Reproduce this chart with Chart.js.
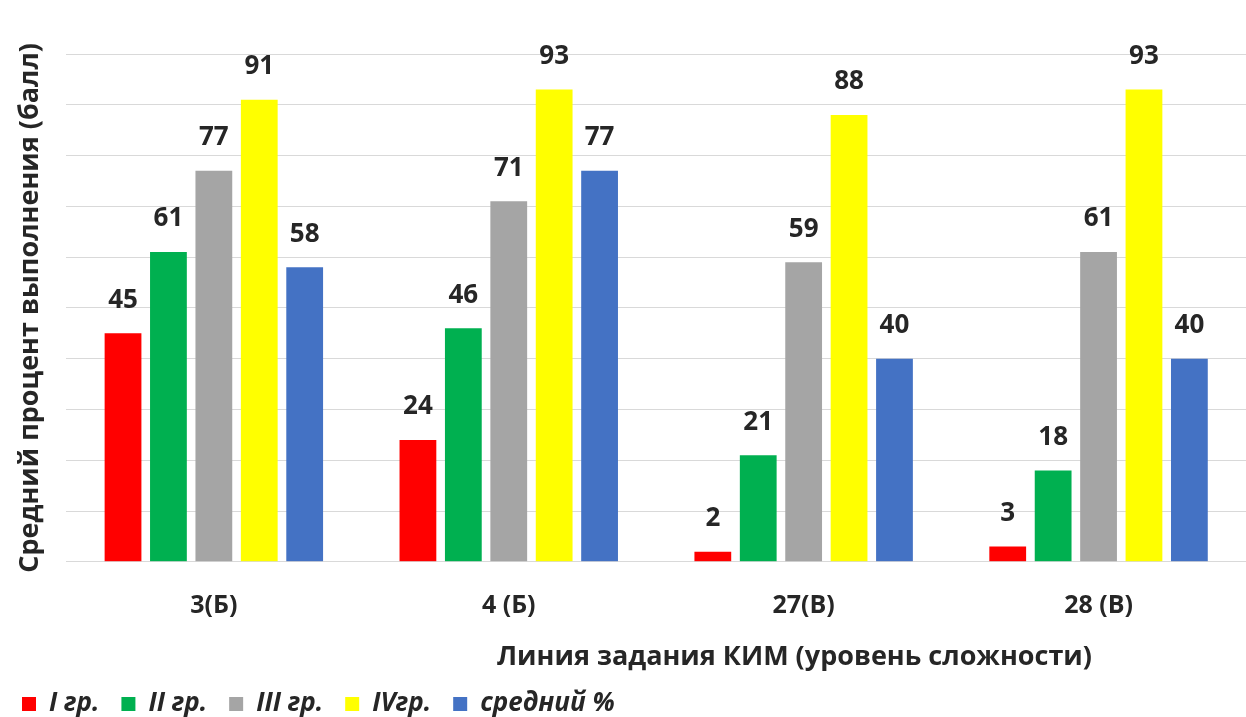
<!DOCTYPE html>
<html>
<head>
<meta charset="utf-8">
<script src="https://cdn.jsdelivr.net/npm/chart.js@4"></script>
<style>
  html, body { margin: 0; padding: 0; background: #fff; }
  #wrap { position: relative; width: 1246px; height: 717px; }
  #xtitle {
    position: absolute; left: 497px; top: 636px;
    font: bold 27px "Open Sans", sans-serif; color: #262626; white-space: nowrap;
  }
</style>
</head>
<body>
<div id="wrap">
  <canvas id="c"></canvas>
  <div id="xtitle">Линия задания КИМ (уровень сложности)</div>
</div>
<script>
// categories and series
const categories = ['3(Б)', '4 (Б)', '27(В)', '28 (В)'];
const group1 = [45, 24, 2, 3];
const group2 = [61, 46, 21, 18];
const group3 = [77, 71, 59, 61];
const group4 = [91, 93, 88, 93];
const average = [58, 77, 40, 40];
const seriesNames = ['I гр.', 'II гр.', 'III гр.', 'IVгр.', 'средний %'];

const COLORS = ['#ff0000', '#00b050', '#a5a5a5', '#ffff00', '#4472c4'];
const FONT = '"Open Sans", sans-serif';

const valueLabels = {
  id: 'valueLabels',
  afterDatasetsDraw(chart) {
    const ctx = chart.ctx;
    ctx.save();
    ctx.font = 'bold 26px ' + FONT;
    ctx.fillStyle = '#262626';
    ctx.textAlign = 'center';
    ctx.textBaseline = 'middle';
    chart.data.datasets.forEach((ds, i) => {
      chart.getDatasetMeta(i).data.forEach((bar, j) => {
        ctx.fillText(ds.data[j], bar.x, bar.y - 33);
      });
    });
    ctx.restore();
  }
};

const allSeries = [group1, group2, group3, group4, average];

new Chart(document.getElementById('c'), {
  type: 'bar',
  data: {
    labels: categories,
    datasets: allSeries.map((d, i) => ({
      label: seriesNames[i],
      data: d,
      backgroundColor: COLORS[i],
      borderWidth: 0,
      categoryPercentage: 0.77,
      barPercentage: 0.81,
    })),
  },
  options: {
    responsive: true,
    maintainAspectRatio: false,
    animation: false,
    layout: { padding: { top: 54, right: 0, left: 0, bottom: -10 } },
    plugins: {
      legend: {
        position: 'bottom',
        align: 'start',
        labels: {
          boxWidth: 14,
          boxHeight: 14,
          padding: 22,
          color: '#262626',
          font: { family: FONT, size: 26, style: 'italic', weight: 'bold' },
        },
      },
      tooltip: { enabled: false },
    },
    scales: {
      x: {
        grid: { display: false },
        border: { color: '#d9d9d9', width: 1 },
        ticks: {
          padding: 21,
          color: '#262626',
          font: { family: FONT, size: 25, weight: 'bold' },
        },
        // empty title only reserves room for the html axis title
        title: { display: true, text: ' ', font: { size: 1 }, padding: { top: 22, bottom: 4 } },
      },
      y: {
        min: 0,
        max: 100,
        ticks: { display: false, stepSize: 10 },
        grid: { color: '#d9d9d9', drawTicks: false },
        border: { display: false },
        title: {
          display: true,
          text: 'Средний процент выполнения (балл)',
          color: '#262626',
          font: { family: FONT, size: 27, weight: 'bold' },
          padding: { top: 14, bottom: 20 },
        },
      },
    },
  },
  plugins: [valueLabels],
});
</script>
</body>
</html>
